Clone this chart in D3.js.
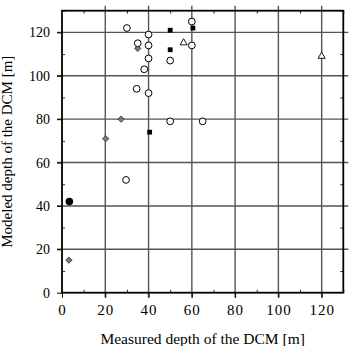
<!DOCTYPE html>
<html>
<head>
<meta charset="utf-8">
<script src="https://cdn.jsdelivr.net/npm/d3@7"></script>
<style>
body { margin: 0; background: #fff; }
text { font-family: "Liberation Serif", "Times New Roman", serif; }
</style>
</head>
<body>
<svg id="chart" width="350" height="346"></svg>
<script>
// measured vs modeled DCM depth, one array pair per marker type
var openCircleX = [30, 35, 40, 40, 40, 38, 34.5, 40, 50, 60, 60, 50, 65, 29.6];
var openCircleY = [122, 115, 119, 114, 108, 103, 94, 92, 107, 125, 114, 79, 79, 52];
var squareX = [50, 50, 60.5, 40.5];
var squareY = [121, 112, 122, 74];
var diamondX = [35, 27.3, 20.2, 3.2];
var diamondY = [112.6, 80, 71, 15];
var dotX = [3.4];
var dotY = [42];
var triangleX = [56.2, 120];
var triangleY = [115.2, 109];

var majorTicks = [0, 20, 40, 60, 80, 100, 120];
var minorTicks = [10, 30, 50, 70, 90, 110, 130];

var svg = d3.select("#chart")

var x = d3.scaleLinear().domain([0, 130]).range([62, 343.3])
var y = d3.scaleLinear().domain([0, 130]).range([292.7, 10.7])

// grid lines, they poke out of the frame like ticks
var gridColor = "#555"
svg.append("g").selectAll("line")
    .data(majorTicks.slice(1))
    .join("line")
    .attr("x1", d => x(d)).attr("x2", d => x(d))
    .attr("y1", y(130) - 5).attr("y2", y(0) + 5)
    .attr("stroke", gridColor)
    .attr("stroke-width", 1.4)
svg.append("g").selectAll("line")
    .data(majorTicks.slice(1))
    .join("line")
    .attr("y1", d => y(d)).attr("y2", d => y(d))
    .attr("x1", x(0) - 5).attr("x2", x(130) + 5)
    .attr("stroke", gridColor)
    .attr("stroke-width", 1.4)

// minor ticks on all four sides, pointing inwards
function minor(axis, tx, ty) {
    svg.append("g")
        .attr("transform", `translate(${tx},${ty})`)
        .call(axis.tickValues(minorTicks).tickSize(-3).tickFormat(""))
        .call(g => g.select(".domain").remove())
        .call(g => g.selectAll("line").attr("stroke", "#333"))
}
minor(d3.axisBottom(x), 0, y(0))
minor(d3.axisTop(x), 0, y(130))
minor(d3.axisLeft(y), x(0), 0)
minor(d3.axisRight(y), x(130), 0)

// labelled axes
svg.append("g")
    .attr("transform", `translate(0,${y(0)})`)
    .call(d3.axisBottom(x).tickValues(majorTicks).tickSize(5).tickPadding(7))
    .call(g => g.select(".domain").remove())
    .call(g => g.selectAll("text")
        .attr("font-size", 15)
        .attr("letter-spacing", 1)
        .attr("fill", "#000")
        .style("font-family", "Liberation Serif"))

svg.append("g")
    .attr("transform", `translate(${x(0)},0)`)
    .call(d3.axisLeft(y).tickValues(majorTicks).tickSize(5).tickPadding(7))
    .call(g => g.select(".domain").remove())
    .call(g => g.selectAll("text")
        .attr("font-size", 14)
        .attr("fill", "#000")
        .style("font-family", "Liberation Serif"))

// frame
svg.append("rect")
    .attr("x", x(0)).attr("y", y(130))
    .attr("width", x(130) - x(0)).attr("height", y(0) - y(130))
    .attr("fill", "none")
    .attr("stroke", "#000")
    .attr("stroke-width", 1.8)

// markers
function pts(xs, ys) { return xs.map((v, i) => [v, ys[i]]) }

var marks = svg.append("g")

// diamonds = squares turned 45 degrees
marks.selectAll(".dia")
    .data(pts(diamondX, diamondY))
    .join("path")
    .attr("d", d3.symbol(d3.symbolSquare, 20))
    .attr("transform", d => `translate(${x(d[0])},${y(d[1])}) rotate(45)`)
    .attr("fill", "#7a7a7a")
    .attr("stroke", "#333")
    .attr("stroke-width", 0.8)

marks.selectAll(".oc")
    .data(pts(openCircleX, openCircleY))
    .join("circle")
    .attr("cx", d => x(d[0])).attr("cy", d => y(d[1]))
    .attr("r", 3.4)
    .attr("fill", "#fff")
    .attr("stroke", "#000")
    .attr("stroke-width", 1)

marks.selectAll(".sq")
    .data(pts(squareX, squareY))
    .join("rect")
    .attr("x", d => x(d[0]) - 2.4).attr("y", d => y(d[1]) - 2.4)
    .attr("width", 4.8).attr("height", 4.8)
    .attr("fill", "#000")

marks.selectAll(".dot")
    .data(pts(dotX, dotY))
    .join("circle")
    .attr("cx", d => x(d[0])).attr("cy", d => y(d[1]))
    .attr("r", 3.8)
    .attr("fill", "#000")

marks.selectAll(".tri")
    .data(pts(triangleX, triangleY))
    .join("path")
    .attr("d", d3.symbol(d3.symbolTriangle, 22))
    .attr("transform", d => `translate(${x(d[0])},${y(d[1])})`)
    .attr("fill", "#fff")
    .attr("stroke", "#000")
    .attr("stroke-width", 0.9)

// axis titles
svg.append("text")
    .attr("x", (x(0) + x(130)) / 2)
    .attr("y", 344)
    .attr("text-anchor", "middle")
    .attr("font-size", 15.5)
    .text("Measured depth of the DCM [m]")

svg.append("text")
    .attr("transform", `translate(12,${(y(0) + y(130)) / 2}) rotate(-90)`)
    .attr("text-anchor", "middle")
    .attr("font-size", 15)
    .text("Modeled depth of the DCM [m]")
</script>
</body>
</html>
